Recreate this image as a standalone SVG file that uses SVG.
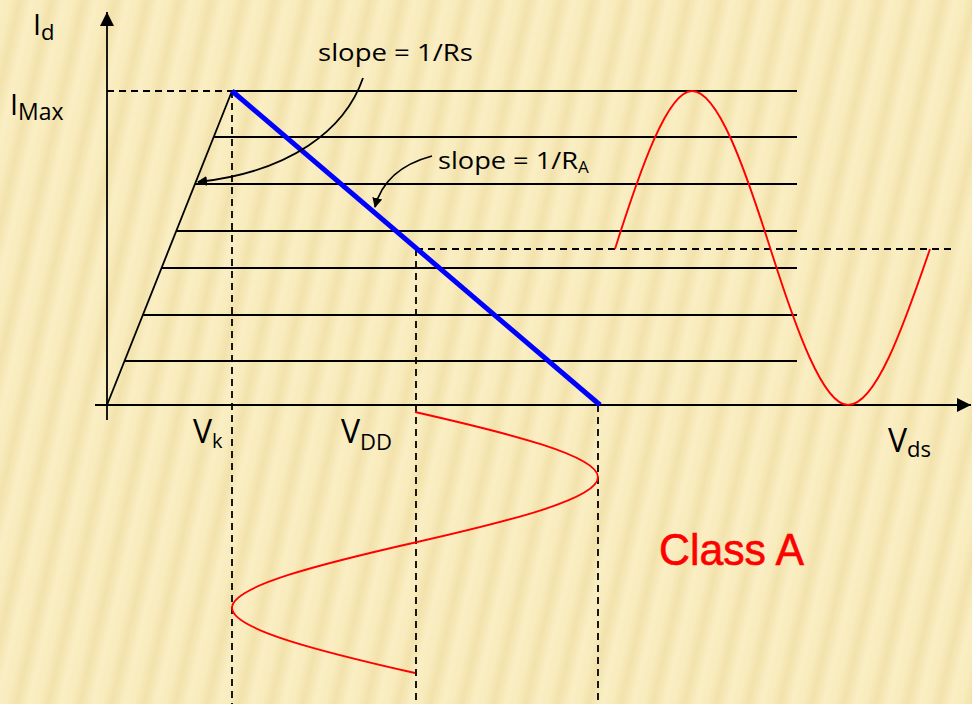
<svg xmlns="http://www.w3.org/2000/svg" width="972" height="704" viewBox="0 0 972 704">
<defs>
<linearGradient id="stripe" x1="0" y1="0" x2="1" y2="0">
<stop offset="0" stop-color="#FAEEC4"/>
<stop offset="0.35" stop-color="#F8EBBC"/>
<stop offset="0.62" stop-color="#F2E2AC"/>
<stop offset="0.82" stop-color="#F6E8B7"/>
<stop offset="1" stop-color="#FAEEC4"/>
</linearGradient>
<pattern id="bg" patternUnits="userSpaceOnUse" width="31" height="40" patternTransform="rotate(13)">
<rect width="31" height="40" fill="url(#stripe)"/>
</pattern>
<marker id="ah" viewBox="0 0 10 10" refX="9" refY="5" markerWidth="10" markerHeight="10" markerUnits="userSpaceOnUse" orient="auto">
<path d="M0,0 L10,5 L0,10 Z" fill="#000"/>
</marker>
<marker id="axh" viewBox="0 0 10 10" refX="10" refY="5" markerWidth="14" markerHeight="14" markerUnits="userSpaceOnUse" orient="auto">
<path d="M0,0 L10,5 L0,10 Z" fill="#000"/>
</marker>
</defs>
<style>
.ln{stroke:#000;stroke-width:1.8;fill:none}
.dash{stroke:#000;stroke-width:1.8;fill:none;stroke-dasharray:7,5}
.red{stroke:#FF0000;stroke-width:1.9;fill:none}
.t{font-family:"Open Sans","DejaVu Sans",sans-serif;fill:#000}
</style>
<rect width="972" height="704" fill="url(#bg)"/>
<g id="connectors">
<line id="y-axis" class="ln" x1="107" y1="420" x2="107" y2="12" marker-end="url(#axh)"/>
<line id="x-axis" class="ln" x1="95" y1="405" x2="971" y2="405" marker-end="url(#axh)"/>
<line class="ln" x1="107" y1="405" x2="232" y2="91"/>
<line class="ln" x1="232" y1="91" x2="797" y2="91"/>
<line class="ln" x1="213.7" y1="137" x2="797" y2="137"/>
<line class="ln" x1="195" y1="184" x2="797" y2="184"/>
<line class="ln" x1="176.3" y1="231" x2="797" y2="231"/>
<line class="ln" x1="161.5" y1="268" x2="797" y2="268"/>
<line class="ln" x1="142.8" y1="315" x2="797" y2="315"/>
<line class="ln" x1="124.5" y1="361" x2="797" y2="361"/>
<line class="dash" x1="107" y1="91" x2="232" y2="91"/>
<line class="dash" x1="416" y1="249" x2="956" y2="249"/>
<line class="dash" x1="232" y1="91" x2="232" y2="704"/>
<line class="dash" x1="416" y1="249" x2="416" y2="704"/>
<line class="dash" x1="598" y1="405" x2="598" y2="704"/>
<line id="load-line" x1="232" y1="91" x2="600" y2="405" stroke="#0000FF" stroke-width="5"/>
<path class="ln" d="M363,78 C345,130 290,172 198,182" marker-end="url(#ah)"/>
<path class="ln" d="M432,156 C402,164 382,180 375,207" marker-end="url(#ah)"/>
<path id="output-sine" class="red" d="M615,249 C640.6,168.3 667.6,91 692,91 C717.9,91 744.9,168.3 770.5,249 C796.1,329.7 823.1,405 848,405 C875.4,405 902.4,329.7 930,249"/>
<path id="input-sine" class="red" d="M415,412 C508.5,433.2 598,455.6 598,477.25 C598,498.9 508.5,521.3 415,542.5 C321.5,563.7 232,586.1 232,607.75 C232,629.4 321.5,651.8 415,673"/>
</g>
<g id="label-id"><text class="t" x="33" y="35" font-size="29">I<tspan font-size="22" dy="5">d</tspan></text></g>
<g id="label-imax"><text class="t" x="10" y="115" font-size="29">I<tspan font-size="23" dy="5">Max</tspan></text></g>
<g id="label-vk"><text class="t" x="193" y="443" font-size="32">V<tspan font-size="20" dy="5">k</tspan></text></g>
<g id="label-vdd"><text class="t" x="341" y="443" font-size="32">V<tspan font-size="22" dy="7">DD</tspan></text></g>
<g id="label-vds"><text class="t" x="888" y="452" font-size="32">V<tspan font-size="22" dy="5">ds</tspan></text></g>
<g id="label-slope-rs"><text class="t" x="318" y="61" font-size="24" textLength="155" lengthAdjust="spacingAndGlyphs">slope = 1/Rs</text></g>
<g id="label-slope-ra"><text class="t" x="438" y="169" font-size="24"><tspan textLength="140" lengthAdjust="spacingAndGlyphs">slope = 1/R</tspan><tspan font-size="17" dy="4">A</tspan></text></g>
<g id="label-class"><text x="659" y="565" font-family="Liberation Sans, Arial, sans-serif" font-size="44" fill="#FF0000" stroke="#FF0000" stroke-width="0.6" textLength="145" lengthAdjust="spacingAndGlyphs">Class A</text></g>
</svg>
